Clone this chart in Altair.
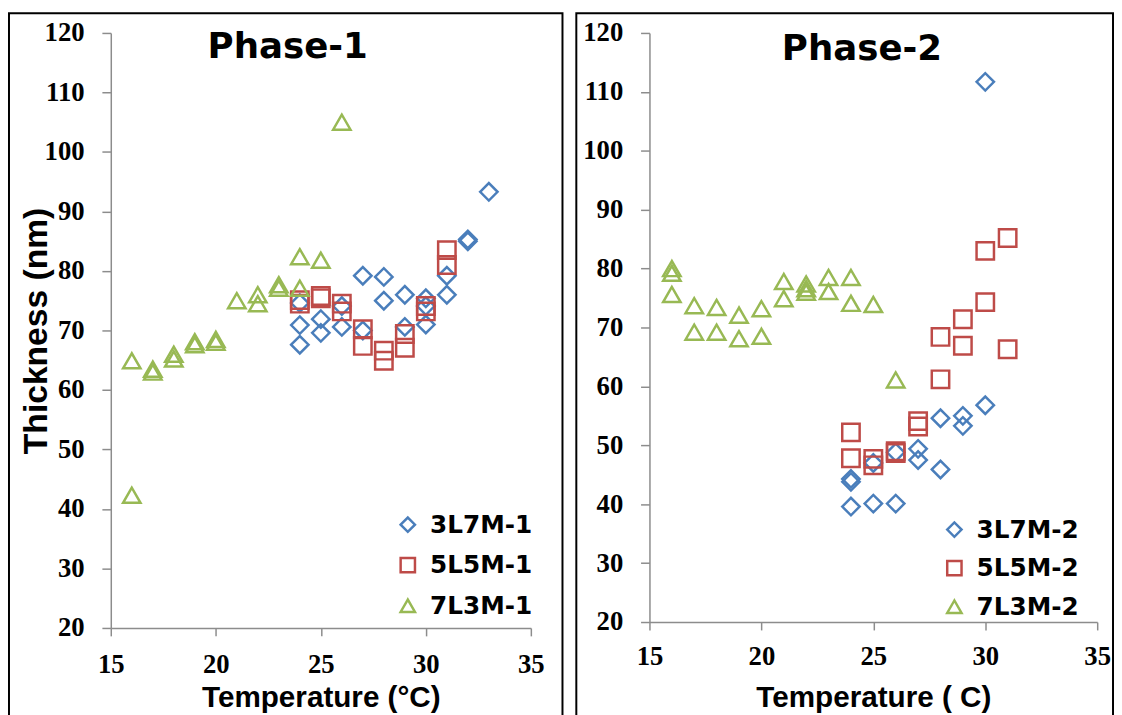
import altair as alt
import pandas as pd

# ---------------- data ----------------
SERIES_1 = ["3L7M-1", "5L5M-1", "7L3M-1"]
SERIES_2 = ["3L7M-2", "5L5M-2", "7L3M-2"]
COLORS = ["#4A7EBB", "#BE4B48", "#98B954"]
SHAPES = ["diamond", "square", "triangle-up"]

# Phase-1
p1_3L7M_t = [24, 24, 24, 25, 25, 26, 26, 27, 27, 28, 28, 29, 29, 30, 30, 30, 31, 31, 32, 32, 33]
p1_3L7M_v = [74.6, 70.9, 67.6, 71.9, 69.6, 74.1, 70.6, 79.2, 70.0, 79.0, 75.0, 76.0, 70.6, 75.4, 74.1, 71.0, 79.2, 76.0, 85.0, 85.3, 93.3]
p1_5L5M_t = [24, 24, 25, 25, 26, 26, 27, 27, 28, 28, 29, 29, 30, 30, 31, 31]
p1_5L5M_v = [75.1, 74.5, 75.8, 75.4, 74.5, 73.2, 70.2, 67.4, 66.6, 64.9, 69.4, 67.1, 74.1, 73.2, 83.5, 81.0]
p1_7L3M_t = [16, 16, 17, 17, 18, 18, 19, 19, 20, 20, 21, 22, 22, 23, 23, 24, 24, 25, 26]
p1_7L3M_v = [64.9, 42.3, 63.5, 63.0, 66.0, 65.2, 68.1, 67.6, 68.5, 68.0, 75.0, 76.0, 74.5, 77.7, 77.1, 82.4, 77.1, 81.8, 105.0]

# Phase-2
p2_3L7M_t = [24, 24, 24, 25, 25, 26, 26, 27, 27, 28, 28, 29, 29, 30, 30]
p2_3L7M_v = [44.3, 43.8, 39.6, 47.0, 40.1, 48.8, 40.1, 49.4, 47.5, 54.6, 45.9, 55.0, 53.3, 56.8, 111.7]
p2_5L5M_t = [24, 24, 25, 25, 26, 26, 27, 27, 28, 28, 29, 29, 30, 30, 31, 31]
p2_5L5M_v = [52.2, 47.8, 47.7, 46.6, 48.7, 49.0, 54.1, 53.2, 68.4, 61.2, 71.4, 66.9, 83.0, 74.3, 85.2, 66.3]
p2_7L3M_t = [16, 16, 16, 17, 17, 18, 18, 19, 19, 20, 20, 21, 21, 22, 22, 22, 23, 23, 24, 24, 25, 26]
p2_7L3M_v = [80.0, 79.2, 75.6, 73.7, 69.2, 73.4, 69.2, 72.1, 68.1, 73.2, 68.5, 77.8, 74.9, 77.4, 76.6, 76.0, 78.5, 76.1, 78.5, 74.1, 73.9, 61.1]

X_TICKS = [15, 20, 25, 30, 35]
Y_TICKS = [20, 30, 40, 50, 60, 70, 80, 90, 100, 110, 120]


def frame(names, ts, vs):
    rows = []
    for i, (n, t, v) in enumerate(zip(names, ts, vs)):
        for a, b in zip(t, v):
            rows.append({"series": n, "order": i, "T": a, "V": b})
    return pd.DataFrame(rows)


df1 = frame(SERIES_1, [p1_3L7M_t, p1_5L5M_t, p1_7L3M_t], [p1_3L7M_v, p1_5L5M_v, p1_7L3M_v])
df2 = frame(SERIES_2, [p2_3L7M_t, p2_5L5M_t, p2_7L3M_t], [p2_3L7M_v, p2_5L5M_v, p2_7L3M_v])

AX_GRAY = "#8C8C8C"


def panel(df, series, title, xtitle, ytitle, w, h, fr, title_xy, leg_xy, leg_rowpad,
          x_title_y, x_lab_pad):
    legend = alt.Legend(
        title=None, orient="none", legendX=leg_xy[0], legendY=leg_xy[1],
        labelFont="DejaVu Sans", labelFontWeight="bold", labelFontSize=25,
        labelColor="black", symbolSize=210, symbolStrokeWidth=2.5,
        rowPadding=leg_rowpad, labelOffset=10, padding=0,
    )
    y_axis_kwargs = dict(
        values=Y_TICKS, grid=False, domainColor=AX_GRAY, domainWidth=1.5,
        tickColor=AX_GRAY, tickWidth=1.5, tickSize=9, labelFlush=False,
        labelFont="Liberation Serif", labelFontWeight="bold", labelFontSize=27,
        labelColor="black", labelPadding=18,
    )
    if ytitle:
        y_axis = alt.Axis(
            title=ytitle, titleFont="Liberation Sans", titleFontWeight="bold",
            titleFontSize=34, titleColor="black", titleX=-75, titleY=h / 2,
            titleBaseline="middle", titleAngle=-90, titleAlign="center",
            **y_axis_kwargs)
    else:
        y_axis = alt.Axis(title=None, **y_axis_kwargs)
    x_axis = alt.Axis(
        values=X_TICKS, grid=False, domainColor=AX_GRAY, domainWidth=1.5,
        tickColor=AX_GRAY, tickWidth=1.5, tickSize=8, labelFlush=False,
        labelFont="Liberation Serif", labelFontWeight="bold", labelFontSize=27,
        labelColor="black", labelPadding=x_lab_pad,
        title=xtitle, titleFont="Liberation Sans", titleFontWeight="bold",
        titleFontSize=30, titleColor="black", titleY=x_title_y,
        titleBaseline="middle",
    )
    pts = alt.Chart(df).mark_point(filled=False, strokeWidth=2.5, size=310, opacity=1).encode(
        x=alt.X("T:Q", scale=alt.Scale(domain=[15, 35], nice=False), axis=x_axis),
        y=alt.Y("V:Q", scale=alt.Scale(domain=[20, 120], nice=False), axis=y_axis),
        color=alt.Color("series:N", scale=alt.Scale(domain=series, range=COLORS), legend=legend),
        shape=alt.Shape("series:N", scale=alt.Scale(domain=series, range=SHAPES), legend=legend),
        order=alt.Order("order:Q"),
    )
    ttl = alt.Chart(pd.DataFrame({"t": [title]})).mark_text(
        font="DejaVu Sans", fontWeight="bold", fontSize=36, color="black",
        align="center", baseline="middle",
    ).encode(text="t:N", x=alt.value(title_xy[0]), y=alt.value(title_xy[1]))
    box = alt.Chart(pd.DataFrame({"f": [0]})).mark_rect(
        fillOpacity=0, stroke="black", strokeWidth=2,
    ).encode(x=alt.value(fr[0]), x2=alt.value(fr[1]), y=alt.value(fr[2]), y2=alt.value(fr[3]))
    return alt.layer(pts, ttl, box).properties(width=w, height=h)


left = panel(df1, SERIES_1, "Phase-1", "Temperature (°C)", "Thickness (nm)",
             425, 602, (-103, 457, -20, 700), (179, 14), (288, 485), 15, 70, 16)
right = panel(df2, SERIES_2, "Phase-2", "Temperature ( C)", None,
              453, 596, (-74, 469, -20, 700), (215, 16), (296, 490), 13, 76, 14)

chart = alt.hconcat(left, right, spacing=12).resolve_scale(
    x="independent", y="independent", color="independent", shape="independent"
).properties(padding={"left": 0, "top": 0, "right": 0, "bottom": 0}).configure_view(stroke=None)

chart.save("out.html", embed_options={"renderer": "svg", "actions": False})
